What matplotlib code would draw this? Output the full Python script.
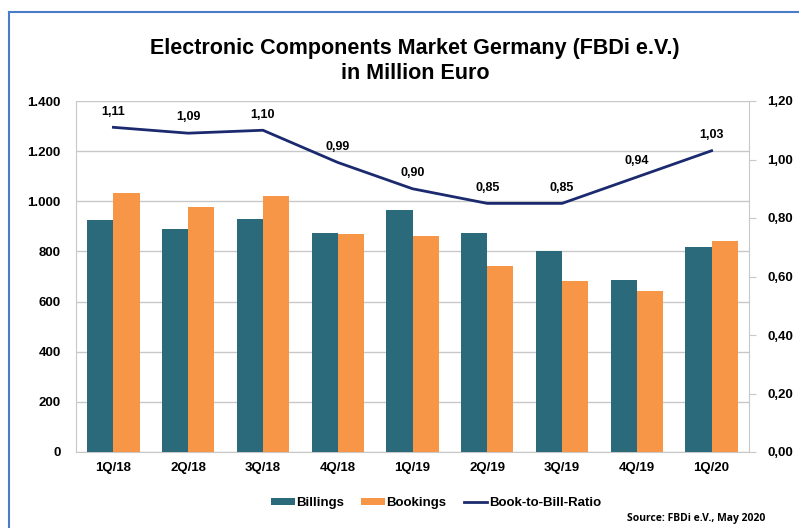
import numpy as np
import matplotlib.pyplot as plt
from matplotlib.lines import Line2D
from matplotlib.ticker import FuncFormatter

quarters = ['1Q/18', '2Q/18', '3Q/18', '4Q/18', '1Q/19', '2Q/19', '3Q/19', '4Q/19', '1Q/20']
billings = [925, 890, 929, 874, 965, 874, 802, 686, 818]
bookings = [1033, 977, 1021, 870, 862, 742, 682, 642, 842]
ratio = [1.11, 1.09, 1.10, 0.99, 0.90, 0.85, 0.85, 0.94, 1.03]

teal = '#2A6A7A'
orange = '#F79646'
navy = '#1B2A6E'
grid_gray = '#C8C8C8'

plt.rcParams['font.family'] = ['Liberation Sans', 'DejaVu Sans']
plt.rcParams['font.weight'] = 'bold'

fig = plt.figure(figsize=(7.99, 5.28), dpi=100)
ax = fig.add_axes([76 / 799, 1 - 452 / 528, (749 - 76) / 799, (452 - 101) / 528])
ax2 = ax.twinx()

x = np.arange(len(quarters))
w = 0.35
ax.bar(x - w / 2, billings, w, color=teal, label='Billings', zorder=3)
ax.bar(x + w / 2, bookings, w, color=orange, label='Bookings', zorder=3)

ax.set_xlim(-0.5, len(quarters) - 0.5)
ax.set_ylim(0, 1400)
ax.set_yticks(np.arange(0, 1401, 200))
ax.yaxis.set_major_formatter(FuncFormatter(lambda v, p: f'{int(v):,}'.replace(',', '.')))
ax.set_xticks(x)
ax.set_xticklabels(quarters)
ax.grid(axis='y', color=grid_gray, linewidth=1, zorder=0)
ax.tick_params(axis='both', length=0, labelsize=9.5, pad=7)
ax.tick_params(axis='y', pad=11)
for s in ['top', 'right']:
    ax.spines[s].set_visible(False)
for s in ['left', 'bottom']:
    ax.spines[s].set_color(grid_gray)

ax2.plot(x, ratio, color=navy, linewidth=2, label='Book-to-Bill-Ratio', zorder=4)
for xi, r in zip(x, ratio):
    ax2.annotate(f'{r:.2f}'.replace('.', ','), (xi, r), xytext=(0, 7),
                 textcoords='offset points', ha='center', va='bottom', fontsize=9)
ax2.set_ylim(0, 1.2)
ax2.set_yticks(np.arange(0, 1.21, 0.2))
ax2.yaxis.set_major_formatter(FuncFormatter(lambda v, p: f'{v:.2f}'.replace('.', ',')))
ax2.tick_params(axis='y', length=5, color=grid_gray, labelsize=9.5, pad=8)
for s in ['top', 'left', 'bottom']:
    ax2.spines[s].set_visible(False)
ax2.spines['right'].set_color(grid_gray)

fig.text(415 / 799, 1 - 61 / 528, 'Electronic Components Market Germany (FBDi e.V.)\nin Million Euro',
         ha='center', va='center', fontsize=15.5, fontweight='bold', linespacing=1.3)

h1, l1 = ax.get_legend_handles_labels()
h2, l2 = ax2.get_legend_handles_labels()
fig.legend(h1 + h2, l1 + l2, loc='center', bbox_to_anchor=(436 / 799, 1 - 503 / 528), ncol=3,
           frameon=False, fontsize=9.5, handlelength=1.8, handleheight=0.5,
           handletextpad=0.1, columnspacing=1.3)

fig.text(765 / 799, 1 - 519 / 528, 'Source: FBDi e.V., May 2020', ha='right', va='center',
         fontsize=7.5, fontweight='bold', family=['Open Sans', 'DejaVu Sans'])

border = '#4A7DC8'
fig.add_artist(Line2D([9 / 799, 9 / 799], [0, 1 - 12 / 528], transform=fig.transFigure,
                      color=border, linewidth=1.5))
fig.add_artist(Line2D([9 / 799, 1], [1 - 12 / 528, 1 - 12 / 528], transform=fig.transFigure,
                      color=border, linewidth=1.5))

fig.savefig('out.png', dpi=100)
